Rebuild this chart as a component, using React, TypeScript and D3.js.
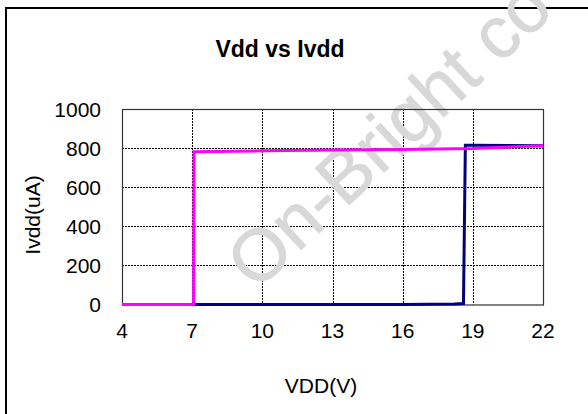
import { useEffect, useRef } from 'react';
import * as d3 from 'd3';

// data
const xTicks = [4, 7, 10, 13, 16, 19, 22];
const yTicks = [0, 200, 400, 600, 800, 1000];

const blueVdd = [7.1, 10, 13, 16, 18.2, 18.6, 18.68, 19, 22];
const blueIdd = [0, 0, 0, 0, 3, 5, 814, 814, 812];

const pinkVdd = [4, 7.06, 7.08, 10, 13, 16, 19, 22];
const pinkIdd = [0, 0, 781, 786, 790, 793, 798, 812];

const W = 588;
const H = 414;
const FONT = '"Liberation Sans", Arial, sans-serif';

const App = () => {
  const svgRef = useRef<SVGSVGElement>(null);

  useEffect(() => {
    if (!svgRef.current) return;
    const svg = d3.select(svgRef.current);
    svg.selectAll('*').remove();

    const plot = { left: 122, right: 543, top: 109, bottom: 304.5 };

    const x = d3.scaleLinear().domain([4, 22]).range([plot.left, plot.right]);
    const y = d3.scaleLinear().domain([0, 1000]).range([plot.bottom, plot.top]);

    svg.append('rect')
      .attr('width', W)
      .attr('height', H)
      .attr('fill', '#fff');

    // outer frame (runs off the right and bottom)
    svg.append('rect')
      .attr('x', 6)
      .attr('y', 8)
      .attr('width', W + 10)
      .attr('height', H + 10)
      .attr('fill', 'none')
      .attr('stroke', '#000')
      .attr('stroke-width', 2);

    // grid
    svg.append('g')
      .selectAll('line')
      .data(yTicks.slice(1, -1))
      .join('line')
      .attr('x1', plot.left)
      .attr('x2', plot.right)
      .attr('y1', d => Math.round(y(d)) + 0.5)
      .attr('y2', d => Math.round(y(d)) + 0.5)
      .attr('stroke', '#000')
      .attr('stroke-dasharray', '2 1');

    svg.append('g')
      .selectAll('line')
      .data(xTicks.slice(1, -1))
      .join('line')
      .attr('y1', plot.top)
      .attr('y2', plot.bottom)
      .attr('x1', d => Math.round(x(d)) + 0.5)
      .attr('x2', d => Math.round(x(d)) + 0.5)
      .attr('stroke', '#000')
      .attr('stroke-dasharray', '2 1');

    // watermark, cut off by the picture edge like in the source
    svg.append('text')
      .attr('transform', 'translate(256,292) rotate(-43)')
      .attr('font-family', FONT)
      .attr('font-size', 73)
      .attr('fill', '#d8d8d8')
      .attr('stroke', '#d8d8d8')
      .attr('stroke-width', 0.8)
      .text('On-Bright co');

    // plot border
    svg.append('rect')
      .attr('x', plot.left + 0.5)
      .attr('y', plot.top + 0.5)
      .attr('width', plot.right - plot.left)
      .attr('height', plot.bottom - plot.top)
      .attr('fill', 'none')
      .attr('stroke', '#333')
      .attr('stroke-width', 1.2);

    const line = d3.line<[number, number]>()
      .x(d => x(d[0]))
      .y(d => y(d[1]));

    svg.append('path')
      .datum(blueVdd.map((v, i) => [v, blueIdd[i]] as [number, number]))
      .attr('d', line)
      .attr('fill', 'none')
      .attr('stroke', '#000080')
      .attr('stroke-width', 3);

    svg.append('path')
      .datum(pinkVdd.map((v, i) => [v, pinkIdd[i]] as [number, number]))
      .attr('d', line)
      .attr('fill', 'none')
      .attr('stroke', '#ff00ff')
      .attr('stroke-width', 3);

    // y tick labels
    svg.append('g')
      .selectAll('text')
      .data(yTicks)
      .join('text')
      .attr('x', 101)
      .attr('y', d => y(d))
      .attr('dy', '0.36em')
      .attr('text-anchor', 'end')
      .attr('font-family', FONT)
      .attr('font-size', 21)
      .attr('fill', '#000')
      .text(d => d);

    // x tick labels
    svg.append('g')
      .selectAll('text')
      .data(xTicks)
      .join('text')
      .attr('x', d => x(d))
      .attr('y', 338)
      .attr('text-anchor', 'middle')
      .attr('font-family', FONT)
      .attr('font-size', 21)
      .attr('fill', '#000')
      .text(d => d);

    svg.append('text')
      .attr('x', 280)
      .attr('y', 57)
      .attr('text-anchor', 'middle')
      .attr('font-family', FONT)
      .attr('font-size', 23)
      .attr('font-weight', 'bold')
      .attr('fill', '#000')
      .text('Vdd vs Ivdd');

    svg.append('text')
      .attr('x', 321)
      .attr('y', 393)
      .attr('text-anchor', 'middle')
      .attr('font-family', FONT)
      .attr('font-size', 21)
      .attr('fill', '#000')
      .text('VDD(V)');

    svg.append('text')
      .attr('transform', 'translate(40,215) rotate(-90)')
      .attr('text-anchor', 'middle')
      .attr('font-family', FONT)
      .attr('font-size', 21)
      .attr('fill', '#000')
      .text('Ivdd(uA)');
  }, []);

  return (
    <svg
      ref={svgRef}
      width={W}
      height={H}
      style={{ position: 'fixed', left: 0, top: 0, display: 'block' }}
    />
  );
};

export default App;
